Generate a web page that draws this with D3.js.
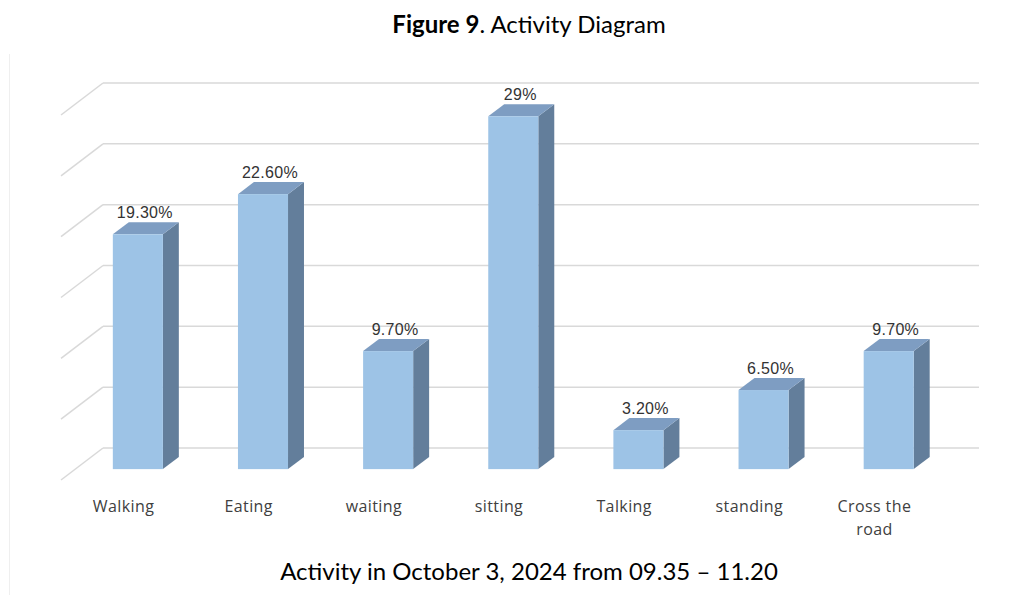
<!DOCTYPE html>
<html>
<head>
<meta charset="utf-8">
<script src="https://cdn.jsdelivr.net/npm/d3@7"></script>
<style>
  body { margin: 0; background: #fff; }
  svg { display: block; }
</style>
</head>
<body>
<script>
// chart data
var categories = ['Walking', 'Eating', 'waiting', 'sitting', 'Talking', 'standing', 'Cross the road'];
var values = [19.3, 22.6, 9.7, 29, 3.2, 6.5, 9.7];
var valueLabels = ['19.30%', '22.60%', '9.70%', '29%', '3.20%', '6.50%', '9.70%'];
var yTicks = [0, 5, 10, 15, 20, 25, 30];

var W = 1019, H = 595;
var DEPTH_X = 42, DEPTH_Y = 32;   // floor depth offset (back wall -> front)
var BAR_BACK = 0.28, BAR_FRONT = 0.66;

var COLOR_FRONT = '#9dc3e6';
var COLOR_TOP = '#7e9dc2';
var COLOR_SIDE = '#637e9b';
var COLOR_GRID = '#d9d9d9';

var svg = d3.select('body').append('svg')
    .attr('width', W)
    .attr('height', H);

// faint left border of the chart box
svg.append('line')
    .attr('x1', 9.5).attr('x2', 9.5)
    .attr('y1', 54).attr('y2', H)
    .style('stroke', '#efefef');

var x = d3.scaleBand()
    .domain(categories)
    .range([103, 979])
    .paddingInner(0)
    .paddingOuter(0);

var y = d3.scaleLinear()
    .domain([0, 30])
    .range([448, 83]);

// project point on back wall at depth d (0 back, 1 front)
function px(xv, d) { return xv - DEPTH_X * d; }
function py(yv, d) { return yv + DEPTH_Y * d; }

// gridlines: wall + side diagonal
var grid = svg.append('g');
yTicks.forEach(function (t) {
    grid.append('line')
        .attr('x1', x.range()[0]).attr('x2', x.range()[1])
        .attr('y1', y(t)).attr('y2', y(t))
        .style('stroke', COLOR_GRID).style('stroke-width', 1.5);
    grid.append('line')
        .attr('x1', x.range()[0]).attr('y1', y(t))
        .attr('x2', px(x.range()[0], 1)).attr('y2', py(y(t), 1))
        .style('stroke', COLOR_GRID).style('stroke-width', 1.5);
});

var barW = x.bandwidth() * 0.4;

var bars = svg.selectAll('g.bar')
    .data(categories)
    .enter()
    .append('g')
    .attr('class', 'bar');

bars.each(function (c, i) {
    var g = d3.select(this);
    var cx = x(c) + x.bandwidth() / 2;
    var l = cx - barW / 2, r = cx + barW / 2;
    var top = y(values[i]), bot = y(0);

    // front face
    var fl = px(l, BAR_FRONT), fr = px(r, BAR_FRONT);
    var ft = py(top, BAR_FRONT), fb = py(bot, BAR_FRONT);
    var bl = px(l, BAR_BACK), br = px(r, BAR_BACK);
    var bt = py(top, BAR_BACK), bb = py(bot, BAR_BACK);

    // side
    g.append('path')
        .attr('d', 'M' + fr + ',' + ft + 'L' + br + ',' + bt + 'L' + br + ',' + bb + 'L' + fr + ',' + fb + 'Z')
        .style('fill', COLOR_SIDE);
    // top
    g.append('path')
        .attr('d', 'M' + fl + ',' + ft + 'L' + bl + ',' + bt + 'L' + br + ',' + bt + 'L' + fr + ',' + ft + 'Z')
        .style('fill', COLOR_TOP);
    // front
    g.append('rect')
        .attr('x', fl).attr('y', ft)
        .attr('width', fr - fl).attr('height', fb - ft)
        .style('fill', COLOR_FRONT);

    // value label
    g.append('text')
        .attr('x', px(cx, (BAR_FRONT + BAR_BACK) / 2) - 1)
        .attr('y', bt - 4)
        .attr('text-anchor', 'middle')
        .style('font-family', '"Liberation Sans", Arial, sans-serif')
        .style('font-size', '16px')
        .style('letter-spacing', '0.3px')
        .style('fill', '#333')
        .text(valueLabels[i]);
});

// category labels along the front edge of the floor
var catLabels = svg.selectAll('text.cat')
    .data(categories)
    .enter()
    .append('text')
    .attr('class', 'cat')
    .attr('text-anchor', 'middle')
    .style('font-family', '"Open Sans", "Liberation Sans", sans-serif')
    .style('font-size', '16px')
    .style('letter-spacing', '0.4px')
    .style('fill', '#404040')
    .attr('transform', function (c) {
        return 'translate(' + px(x(c) + x.bandwidth() / 2, 1) + ',512)';
    });

catLabels.each(function (c) {
    var t = d3.select(this);
    var lines = c == 'Cross the road' ? ['Cross the', 'road'] : [c];
    lines.forEach(function (s, k) {
        t.append('tspan').attr('x', 0).attr('dy', k ? 23 : 0).text(s);
    });
});

// title
var title = svg.append('text')
    .attr('x', 529).attr('y', 33)
    .attr('text-anchor', 'middle')
    .style('font-family', 'Lato, "Open Sans", sans-serif')
    .style('font-size', '24px')
    .style('fill', '#000');
title.append('tspan').style('font-weight', 'bold').text('Figure 9');
title.append('tspan').text('. Activity Diagram');

// caption
svg.append('text')
    .attr('x', 529).attr('y', 580)
    .attr('text-anchor', 'middle')
    .style('font-family', 'Lato, "Open Sans", sans-serif')
    .style('font-size', '24px')
    .style('fill', '#000')
    .text('Activity in October 3, 2024 from 09.35 \u2013 11.20');
</script>
</body>
</html>
